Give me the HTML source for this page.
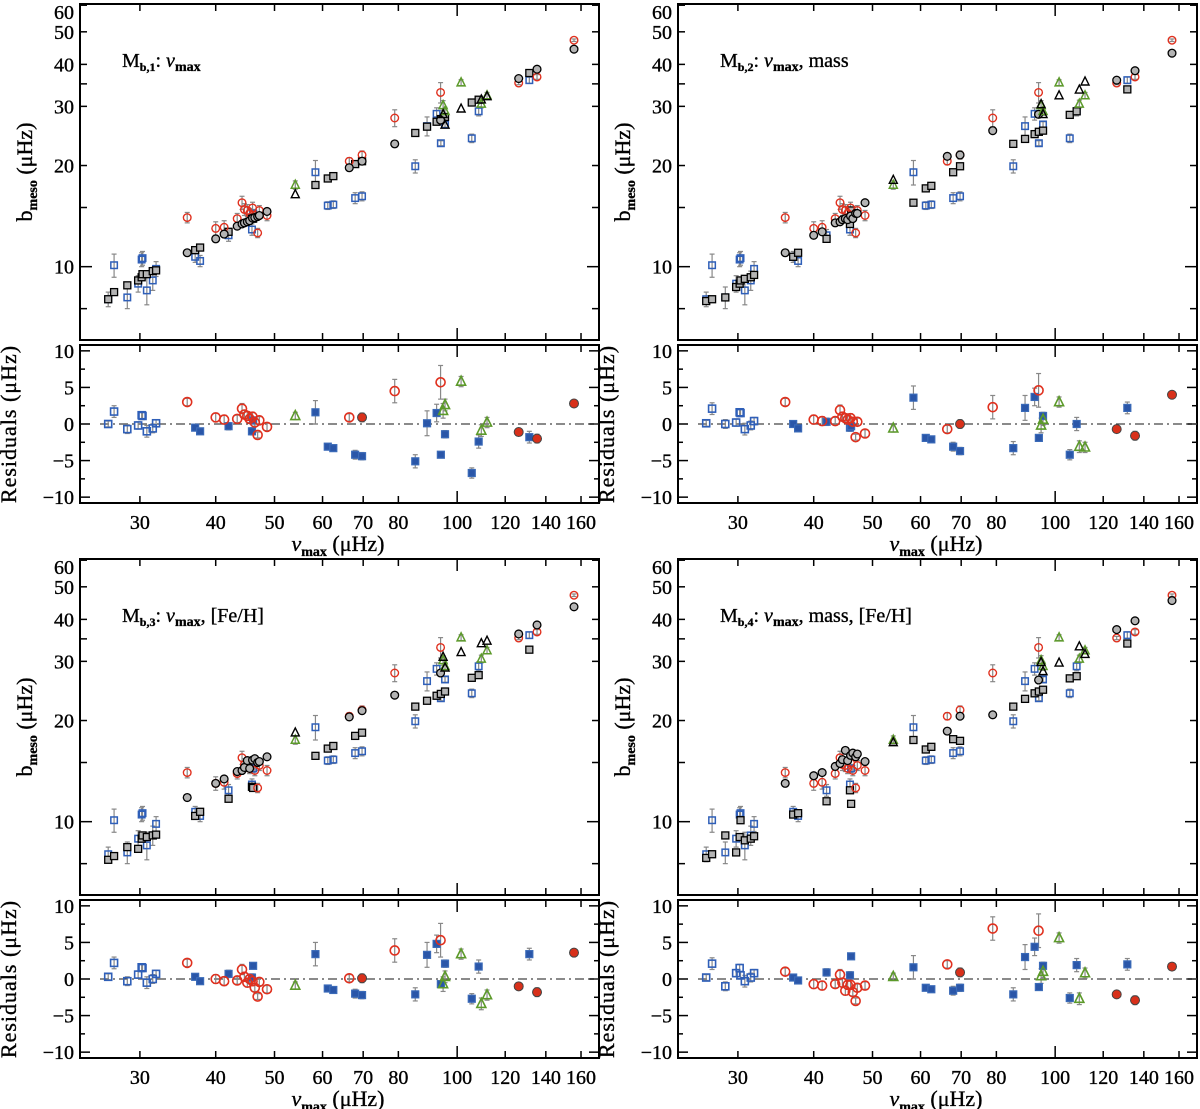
<!DOCTYPE html>
<html><head><meta charset="utf-8"><style>
html,body{margin:0;padding:0;background:#fff;}
svg{display:block;font-family:"Liberation Serif",serif;}
</style></head><body>
<svg id="chart" width="1200" height="1109" viewBox="0 0 1200 1109" xmlns="http://www.w3.org/2000/svg"></svg>
<script>
// ---- data ----
const blueNu = [26.6,27.2,28.6,29.8,30.2,30.3,30.8,31.5,31.9,37.0,37.7,42.0,45.9,46.1,58.4,61.2,62.5,67.9,69.7,85.3,89.2,92.5,94.0,95.5,105.7,108.5,131.5];
const blueObs = [8.0,10.1,8.1,8.9,10.5,10.6,8.5,9.1,9.85,10.7,10.4,12.4,12.9,14.4,19.1,15.2,15.3,16.0,16.2,19.9,26.2,28.5,23.3,26.5,24.1,29.0,35.9];
const blueErr = [0.4,0.8,0.6,0.5,0.5,0.5,0.8,0.6,0.5,0.4,0.4,0.5,0.5,0.4,1.6,0.4,0.4,0.6,0.5,0.9,1.7,1.2,0.4,0.5,0.7,0.9,0.8];
const blueOpenRes = [1,1,1,1,1,1,1,1,1,0,0,0,0,0,0,0,0,0,0,0,0,0,0,0,0,0,0];
const blueModel1 = [8.0,8.4,8.8,9.1,9.3,9.5,9.5,9.7,9.75,11.2,11.4,12.7,13.9,13.9,17.5,18.3,18.6,20.2,20.6,25.0,26.1,27.0,27.5,27.9,30.8,31.4,37.7];
const blueModel2 = [7.9,8.0,8.1,8.7,8.9,9.1,9.2,9.3,9.45,10.7,11.0,12.1,13.4,14.7,15.5,17.1,17.4,19.1,19.9,23.2,24.0,24.8,25.2,25.4,28.3,29.0,33.7];
const blueModel3 = [7.7,7.9,8.4,8.3,8.9,9.1,9.0,9.1,9.15,10.4,10.7,11.7,12.7,12.6,15.7,16.5,16.8,18.0,18.4,22.0,22.9,23.7,24.0,24.4,26.8,27.3,32.5];
const blueModel4 = [7.8,8.0,9.1,8.1,9.0,10.1,8.8,8.9,9.05,10.5,10.6,11.5,12.4,11.3,17.5,16.4,16.7,17.6,17.4,22.0,23.2,24.1,24.4,24.7,26.7,27.1,33.9];
const blueRes1 = [0,1.7,-0.7,-0.2,1.2,1.1,-1.0,-0.6,0.1,-0.5,-1.0,-0.3,-1.0,0.5,1.6,-3.1,-3.3,-4.2,-4.4,-5.1,0.1,1.5,-4.2,-1.4,-6.7,-2.4,-1.8];
const blueRes2 = [0.1,2.1,0,0.2,1.6,1.5,-0.7,-0.2,0.4,0,-0.6,0.3,-0.5,-0.3,3.6,-1.9,-2.1,-3.1,-3.7,-3.3,2.2,3.7,-1.9,1.1,-4.2,0,2.2];
const blueRes3 = [0.3,2.2,-0.3,0.6,1.6,1.5,-0.5,0,0.7,0.3,-0.3,0.7,0.2,1.8,3.4,-1.3,-1.5,-2.0,-2.2,-2.1,3.3,4.8,-0.7,2.1,-2.7,1.7,3.4];
const blueRes4 = [0.2,2.1,-1.0,0.8,1.5,0.5,-0.3,0.2,0.8,0.2,-0.2,0.9,0.5,3.1,1.6,-1.2,-1.4,-1.6,-1.2,-2.1,3.0,4.4,-1.1,1.8,-2.6,1.9,2.0];

const redNu = [35.9,40.0,41.3,43.4,44.2,44.6,45.1,45.5,46.0,46.4,46.9,47.2,48.6,66.4,69.7,78.9,93.9,126.3,135.4,155.8];
const redObs = [14.0,13.0,13.1,13.9,15.5,14.8,14.7,14.4,14.95,14.2,12.6,14.7,14.2,20.6,21.5,27.7,33.0,35.2,36.7,47.2];
const redErr = [0.5,0.6,0.6,0.5,0.7,0.6,0.6,0.5,0.6,0.5,0.4,0.5,0.5,0.5,0.6,1.6,2.3,0.4,0.6,0.4];
const redOpenRes = [1,1,1,1,1,1,1,1,1,1,1,1,1,1,0,1,1,0,0,0];
const redModel1 = [11.0,12.1,12.5,13.2,13.4,13.5,13.6,13.7,13.95,14.0,14.1,14.2,14.6,19.7,20.6,23.2,27.3,36.3,38.7,44.4];
const redModel2 = [11.0,12.4,12.7,13.5,13.6,13.8,13.9,13.8,14.15,13.9,14.4,14.4,15.5,21.3,21.5,25.4,28.4,35.9,38.3,43.2];
const redModel3 = [11.8,13.0,13.4,14.1,14.2,14.5,15.2,14.4,15.25,15.4,15.0,15.1,15.6,20.5,21.4,23.8,27.7,36.2,38.5,43.6];
const redModel4 = [13.0,13.7,14.0,14.6,14.9,15.3,16.3,15.2,15.75,16.0,15.6,15.9,15.1,18.6,20.6,20.8,26.4,37.3,39.6,45.5];
const redRes1 = [3.0,0.9,0.6,0.7,2.1,1.3,1.1,0.7,1.0,0.2,-1.5,0.5,-0.4,0.9,0.9,4.5,5.7,-1.1,-2.0,2.8];
const redRes2 = [3.0,0.6,0.4,0.4,1.9,1.0,0.8,0.6,0.8,0.3,-1.8,0.3,-1.3,-0.7,0,2.3,4.6,-0.7,-1.6,4.0];
const redRes3 = [2.2,0,-0.3,-0.2,1.3,0.3,-0.5,0,-0.3,-1.2,-2.4,-0.4,-1.4,0.1,0.1,3.9,5.3,-1.0,-1.8,3.6];
const redRes4 = [1.0,-0.7,-0.9,-0.7,0.6,-0.5,-1.6,-0.8,-0.8,-1.8,-3.0,-1.2,-0.9,2.0,0.9,6.9,6.6,-2.1,-2.9,1.7];

const greenNu = [54.1,94.8,95.5,101.5,109.6,112.0];
const greenObs = [17.5,30.2,29.0,35.3,30.5,32.3];
const greenErr = [0.5,1.0,0.8,0.7,0.8,0.7];
const greenModel1 = [16.4,28.4,26.4,29.5,31.4,32.1];
const greenModel2 = [18.1,30.4,28.4,32.3,33.6,35.5];
const greenModel3 = [18.4,30.9,28.7,31.9,33.9,34.5];
const greenModel4 = [17.2,29.8,28.0,29.7,33.2,31.5];
const greenRes1 = [1.1,1.8,2.6,5.8,-0.9,0.2];
const greenRes2 = [-0.6,-0.2,0.6,3.0,-3.1,-3.2];
const greenRes3 = [-0.9,-0.7,0.3,3.4,-3.4,-2.2];
const greenRes4 = [0.3,0.4,1.0,5.6,-2.7,0.8];

const xTickVals = [30,40,50,60,70,80,100,120,140,160];
const xTickLabels = ["30","40","50","60","70","80","100","120","140","160"];
const yTickVals = [10,20,30,40,50,60];
const yTickLabels = ["10","20","30","40","50","60"];
const yMinorVals = [7.5,15,35];
const rTickVals = [-10,-5,0,5,10];
const rTickLabels = ["\u221210","\u22125","0","5","10"];
const rMinorVals = [-7.5,-2.5,2.5,7.5];
const panelTitles = [["1",""],["2",", mass"],["3",", [Fe/H]"],["4",", mass, [Fe/H]"]];

// ---- drawing ----
const NS="http://www.w3.org/2000/svg";
const svg=document.getElementById('chart');
function mk(tag,attrs,parent){const e=document.createElementNS(NS,tag);for(const k in attrs)e.setAttribute(k,attrs[k]);(parent||svg).appendChild(e);return e;}
const XMIN=23.9,XMAX=171.3,YMIN=6.05,YMAX=60.5,RMIN=-10.8,RMAX=10.8;
const BW=519, MT=4, MB=340, RT=345, RB=503;
const C={blue:"#2f5fb8",blueFill:"#2a56a8",red:"#e0301e",green:"#5c9a2a",gray:"#b4b4b4"};
const TXT={'stroke':'#000','stroke-width':0.35};

const panels=[
 {ox:0,oy:0,bm:blueModel1,rm:redModel1,gm:greenModel1,br:blueRes1,rr:redRes1,gr:greenRes1},
 {ox:598,oy:0,bm:blueModel2,rm:redModel2,gm:greenModel2,br:blueRes2,rr:redRes2,gr:greenRes2},
 {ox:0,oy:555,bm:blueModel3,rm:redModel3,gm:greenModel3,br:blueRes3,rr:redRes3,gr:greenRes3},
 {ox:598,oy:555,bm:blueModel4,rm:redModel4,gm:greenModel4,br:blueRes4,rr:redRes4,gr:greenRes4}
];

function sq(g,x,y,s,fill,stroke,sw,name){const e=mk('rect',{x:x-s/2,y:y-s/2,width:s,height:s,fill:fill,stroke:stroke,'stroke-width':sw},g);
 
 return e;}
function circ(g,x,y,r,fill,stroke,sw,name){const e=mk('circle',{cx:x,cy:y,r:r,fill:fill,stroke:stroke,'stroke-width':sw},g);
 
 return e;}
function tri(g,x,y,s,fill,stroke,sw,name){const e=mk('polygon',{points:`${x},${y-s*0.6} ${x-s/2},${y+s*0.4} ${x+s/2},${y+s*0.4}`,fill:fill,stroke:stroke,'stroke-width':sw},g);
 
 return e;}
function ebar(g,x,y1,y2){const e=mk('line',{x1:x,x2:x,y1:y1,y2:y2,stroke:"#888",'stroke-width':1.2},g);
 
 
 mk('line',{x1:x-2.5,x2:x+2.5,y1:y1,y2:y1,stroke:"#888",'stroke-width':1.2},g);
 mk('line',{x1:x-2.5,x2:x+2.5,y1:y2,y2:y2,stroke:"#888",'stroke-width':1.2},g);}
function txt(g,attrs){return mk('text',Object.assign({},TXT,attrs),g);}

panels.forEach((p,pi)=>{
 const g=mk('g',{});
 
 
 const L=80+p.ox, R=L+BW;
 const sx=v=>L+(Math.log(v)-Math.log(XMIN))/(Math.log(XMAX)-Math.log(XMIN))*BW;
 const sy=v=>p.oy+MT+(Math.log(YMAX)-Math.log(v))/(Math.log(YMAX)-Math.log(YMIN))*(MB-MT);
 const sr=v=>p.oy+RT+(RMAX-v)/(RMAX-RMIN)*(RB-RT);
 const mT=p.oy+MT,mB=p.oy+MB,rT=p.oy+RT,rB=p.oy+RB;
 const b1=mk('rect',{x:L,y:mT,width:BW,height:MB-MT,fill:'none',stroke:'#000','stroke-width':2},g);
 
 
 const b2=mk('rect',{x:L,y:rT,width:BW,height:RB-RT,fill:'none',stroke:'#000','stroke-width':2},g);
 
 
 xTickVals.forEach((v,i)=>{const x=sx(v),len=v===100?12:7;
  [[mT,1],[mB,-1],[rT,1],[rB,-1]].forEach(([yy,d])=>mk('line',{x1:x,x2:x,y1:yy,y2:yy+d*len,stroke:'#000','stroke-width':1.5},g));
  const t=txt(g,{x:x,y:rB+26,'text-anchor':'middle','font-size':20});t.textContent=xTickLabels[i];
  
  });
 const xt=txt(g,{x:L+258,y:rB+48,'text-anchor':'middle','font-size':22});
 
 
 xt.innerHTML='<tspan font-style="italic">\u03bd</tspan><tspan font-size="14" font-weight="bold" dy="5">max</tspan><tspan dy="-5"> (\u03bcHz)</tspan>';
 yTickVals.forEach((v,i)=>{const y=sy(v),len=v===10?12:7;
  mk('line',{x1:L,x2:L+len,y1:y,y2:y,stroke:'#000','stroke-width':1.5},g);
  mk('line',{x1:R,x2:R-len,y1:y,y2:y,stroke:'#000','stroke-width':1.5},g);
  const t=txt(g,{x:L-6,y:Math.max(y+7,mT+15),'text-anchor':'end','font-size':20});t.textContent=yTickLabels[i];
  
  });
 yMinorVals.forEach(v=>{const y=sy(v);
  mk('line',{x1:L,x2:L+7,y1:y,y2:y,stroke:'#000','stroke-width':1.5},g);
  mk('line',{x1:R,x2:R-7,y1:y,y2:y,stroke:'#000','stroke-width':1.5},g);});
 rTickVals.forEach((v,i)=>{const y=sr(v);
  mk('line',{x1:L,x2:L+10,y1:y,y2:y,stroke:'#000','stroke-width':1.5},g);
  mk('line',{x1:R,x2:R-10,y1:y,y2:y,stroke:'#000','stroke-width':1.5},g);
  const t=txt(g,{x:L-6,y:y+7,'text-anchor':'end','font-size':20});t.textContent=rTickLabels[i];
  
  });
 rMinorVals.forEach(v=>{const y=sr(v);
  mk('line',{x1:L,x2:L+5,y1:y,y2:y,stroke:'#000','stroke-width':1.5},g);
  mk('line',{x1:R,x2:R-5,y1:y,y2:y,stroke:'#000','stroke-width':1.5},g);});
 const yt=txt(g,{x:0,y:0,'text-anchor':'middle','font-size':22,transform:`translate(${L-48},${p.oy+172}) rotate(-90)`});
 
 
 yt.innerHTML='b<tspan font-size="14" font-weight="bold" dy="5">meso</tspan><tspan dy="-5">  (\u03bcHz)</tspan>';
 const rt=txt(g,{x:0,y:0,'text-anchor':'middle','font-size':22,'letter-spacing':1,transform:`translate(${L-64},${p.oy+424}) rotate(-90)`});
 
 
 rt.textContent='Residuals  (\u03bcHz)';
 const pt=txt(g,{x:L+42,y:p.oy+67,'font-size':20});
 
 
 pt.innerHTML=`M<tspan font-size="12" font-weight="bold" dy="4">b,${panelTitles[pi][0]}</tspan><tspan dy="-4">:  </tspan><tspan font-style="italic">\u03bd</tspan><tspan font-size="14" font-weight="bold" dy="4">max</tspan><tspan dy="-4">${panelTitles[pi][1]}</tspan>`;
 const z=mk('line',{x1:L+20,x2:R,y1:sr(0),y2:sr(0),stroke:'#444','stroke-width':1.3,'stroke-dasharray':'9,4,2,4'},g);
 
 
 blueNu.forEach((v,i)=>ebar(g,sx(v),sy(blueObs[i]+blueErr[i]),sy(blueObs[i]-blueErr[i])));
 redNu.forEach((v,i)=>ebar(g,sx(v),sy(redObs[i]+redErr[i]),sy(redObs[i]-redErr[i])));
 greenNu.forEach((v,i)=>ebar(g,sx(v),sy(greenObs[i]+greenErr[i]),sy(greenObs[i]-greenErr[i])));
 blueNu.forEach((v,i)=>sq(g,sx(v),sy(blueObs[i]),6.5,'none',C.blue,1.5,'observed-square'));
 blueNu.forEach((v,i)=>sq(g,sx(v),sy(p.bm[i]),7,C.gray,'#000',1.3,'model-square'));
 redNu.forEach((v,i)=>circ(g,sx(v),sy(redObs[i]),3.8,'none',C.red,1.4,'observed-circle'));
 redNu.forEach((v,i)=>circ(g,sx(v),sy(p.rm[i]),3.9,C.gray,'#000',1.3,'model-circle'));
 greenNu.forEach((v,i)=>tri(g,sx(v),sy(greenObs[i]),8,'none',C.green,1.5,'observed-triangle'));
 greenNu.forEach((v,i)=>tri(g,sx(v),sy(p.gm[i]),8,'none','#000',1.4,'model-triangle'));
 const ry=v=>Math.max(Math.min(v,RMAX),RMIN);
 blueNu.forEach((v,i)=>ebar(g,sx(v),sr(ry(p.br[i]+blueErr[i])),sr(ry(p.br[i]-blueErr[i]))));
 redNu.forEach((v,i)=>ebar(g,sx(v),sr(ry(p.rr[i]+redErr[i])),sr(ry(p.rr[i]-redErr[i]))));
 greenNu.forEach((v,i)=>ebar(g,sx(v),sr(ry(p.gr[i]+greenErr[i])),sr(ry(p.gr[i]-greenErr[i]))));
 blueNu.forEach((v,i)=>{ if(blueOpenRes[i]) sq(g,sx(v),sr(p.br[i]),7,'none',C.blue,1.6,'residual-square');
  else sq(g,sx(v),sr(p.br[i]),7,C.blueFill,'#3a6ab8',1.2,'residual-square');});
 redNu.forEach((v,i)=>{ if(redOpenRes[i]) circ(g,sx(v),sr(p.rr[i]),4.5,'none',C.red,1.6,'residual-circle');
  else circ(g,sx(v),sr(p.rr[i]),4.5,'#d8301a','#444',1,'residual-circle');});
 greenNu.forEach((v,i)=>tri(g,sx(v),sr(p.gr[i]),9,'none',C.green,1.6,'residual-triangle'));
});
</script>
</body></html>
